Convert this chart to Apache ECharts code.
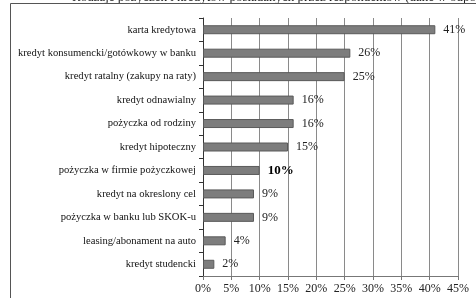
<!DOCTYPE html>
<html>
<head>
<meta charset="utf-8">
<script src="https://cdn.jsdelivr.net/npm/echarts@6/dist/echarts.min.js"></script>
<style>
  html, body { margin: 0; padding: 0; background: #fff; }
  #chart { width: 476px; height: 298px; }
</style>
</head>
<body>
<div id="chart"></div>
<script>
// dane z wykresu
var categories = [
  "karta kredytowa",
  "kredyt konsumencki/gotówkowy w banku",
  "kredyt ratalny (zakupy na raty)",
  "kredyt odnawialny",
  "pożyczka od rodziny",
  "kredyt hipoteczny",
  "pożyczka w firmie pożyczkowej",
  "kredyt na okreslony cel",
  "pożyczka w banku lub SKOK-u",
  "leasing/abonament na auto",
  "kredyt studencki"
];
var values = [41, 26, 25, 16, 16, 15, 10, 9, 9, 4, 2];
var boldIndex = 6;
var xTicks = [0, 5, 10, 15, 20, 25, 30, 35, 40, 45];

var serif = '"Liberation Serif", "DejaVu Serif", serif';

var chart = echarts.init(document.getElementById("chart"));

var option = {
  animation: false,
  backgroundColor: "#fff",
  graphic: [
    {
      type: "text",
      left: 72,
      top: -9,
      style: {
        text: "Rodzaje pożyczek i kredytów posiadanych przez respondentów (dane w odpowiedziach respondentów)",
        font: "13px " + serif,
        fill: "#222"
      }
    },
    {
      type: "rect",
      shape: { x: 10.5, y: 3.5, width: 600, height: 400 },
      style: { fill: "transparent", stroke: "#555", lineWidth: 1 }
    }
  ],
  grid: {
    left: 203,
    right: 18,
    top: 18,
    bottom: 22
  },
  xAxis: {
    type: "value",
    min: xTicks[0],
    max: xTicks[xTicks.length - 1],
    interval: 5,
    axisLine: { show: true, lineStyle: { color: "#777", width: 1 } },
    axisTick: { show: true, length: 4, lineStyle: { color: "#777" } },
    splitLine: { show: true, lineStyle: { color: "#8a8a8a", width: 1 } },
    axisLabel: {
      margin: 7,
      color: "#222",
      fontFamily: serif,
      fontSize: 12,
      formatter: function (v) { return v + "%"; }
    }
  },
  yAxis: {
    type: "category",
    inverse: true,
    data: categories,
    axisLine: { show: true, lineStyle: { color: "#333", width: 1 } },
    axisTick: { show: true, length: 4, lineStyle: { color: "#333" } },
    axisLabel: {
      margin: 7,
      color: "#111",
      fontFamily: serif,
      fontSize: 10.6
    }
  },
  series: [
    {
      type: "bar",
      barWidth: 9,
      data: values.map(function (v, i) {
        var item = { value: v };
        if (i === boldIndex) {
          item.label = { fontWeight: "bold", fontSize: 13, color: "#000" };
        }
        return item;
      }),
      itemStyle: {
        color: "#7d7d7d",
        borderColor: "#5a5a5a",
        borderWidth: 1
      },
      label: {
        show: true,
        position: "right",
        distance: 8,
        color: "#222",
        fontFamily: serif,
        fontSize: 12,
        formatter: "{c}%"
      }
    }
  ]
};

chart.setOption(option);
window.addEventListener("resize", function () {
  chart.resize();
});
</script>
</body>
</html>
